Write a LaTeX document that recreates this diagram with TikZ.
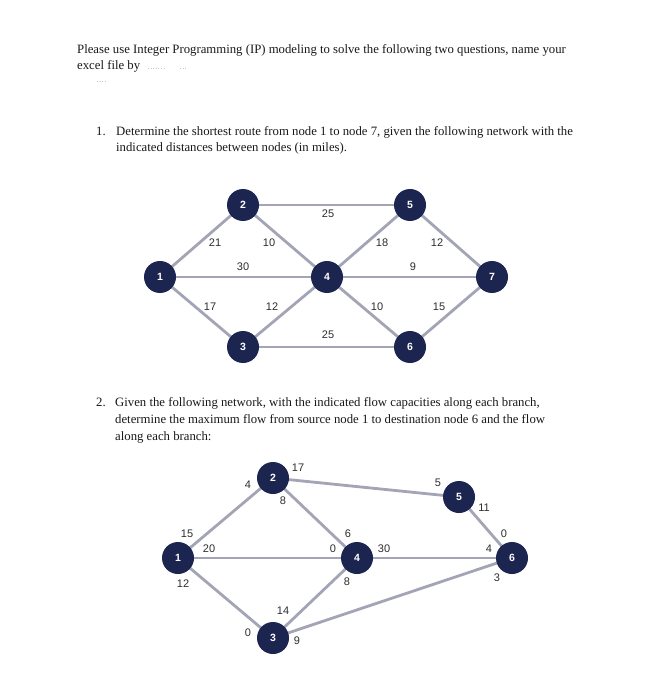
\documentclass[tikz,border=0pt]{standalone}
\usepackage{fontspec}
\setmainfont{Liberation Serif}
\setsansfont{Liberation Sans}
\begin{document}
\begin{tikzpicture}[x=1pt,y=-1pt,
  vtx/.style={circle,fill=navy,draw=none,minimum size=32pt,inner sep=0pt,text=white,font=\sffamily\bfseries\fontsize{10.5}{10.5}\selectfont},
  edge/.style={draw=edgegray,line width=2.8pt},
  lbl/.style={font=\sffamily\fontsize{11}{11}\selectfont,text=labgray,inner sep=0pt},
  txt/.style={anchor=base west,inner sep=0pt,font=\fontsize{12.75}{14}\selectfont,text=black!90},
  scrib/.style={draw=black!22,line width=0.6pt,dotted}]
\definecolor{navy}{HTML}{1B2550}
\definecolor{edgegray}{HTML}{A3A4B5}
\definecolor{labgray}{HTML}{2E2E2E}
\useasboundingbox[fill=white] (0,0) rectangle (652,700);

% header text
\node[txt] (h1) at (77,54) {Please use Integer Programming (IP) modeling to solve the following two questions, name your};
\node[txt] (h2) at (77,70) {excel file by};
\draw[scrib] (148,68) -- (166,68);
\draw[scrib] (180,68) -- (187,68);
\draw[scrib] (97,81) -- (105,81);

% question 1
\node[txt] (q1n) at (96,136) {1.};
\node[txt] (q1a) at (116,136) {Determine the shortest route from node 1 to node 7, given the following network with the};
\node[txt] (q1b) at (116,152) {indicated distances between nodes (in miles).};

% graph 1
\coordinate (A1) at (160,277);
\coordinate (A2) at (243,205);
\coordinate (A3) at (243,347);
\coordinate (A4) at (327,277);
\coordinate (A5) at (410,205);
\coordinate (A6) at (410,347);
\coordinate (A7) at (492,277);
\draw[edge] (A1) -- (A2);
\draw[edge] (A1) -- (A4);
\draw[edge] (A1) -- (A3);
\draw[edge] (A2) -- (A4);
\draw[edge] (A2) -- (A5);
\draw[edge] (A3) -- (A4);
\draw[edge] (A3) -- (A6);
\draw[edge] (A4) -- (A5);
\draw[edge] (A4) -- (A7);
\draw[edge] (A4) -- (A6);
\draw[edge] (A5) -- (A7);
\draw[edge] (A6) -- (A7);
\node[vtx] (n1) at (A1) {1};
\node[vtx] (n2) at (A2) {2};
\node[vtx] (n3) at (A3) {3};
\node[vtx] (n4) at (A4) {4};
\node[vtx] (n5) at (A5) {5};
\node[vtx] (n6) at (A6) {6};
\node[vtx] (n7) at (A7) {7};
\node[lbl] (l12) at (215,243) {21};
\node[lbl] (l24) at (269,243) {10};
\node[lbl] (l14) at (243,267) {30};
\node[lbl] (l13) at (210,307) {17};
\node[lbl] (l34) at (272,307) {12};
\node[lbl] (l25) at (328,214) {25};
\node[lbl] (l36) at (328,335) {25};
\node[lbl] (l45) at (382,243) {18};
\node[lbl] (l57) at (437,243) {12};
\node[lbl] (l47) at (413,267) {9};
\node[lbl] (l46) at (377,307) {10};
\node[lbl] (l67) at (439,307) {15};

% question 2
\node[txt] (q2n) at (96,406) {2.};
\node[txt] (q2a) at (115,406) {Given the following network, with the indicated flow capacities along each branch,};
\node[txt] (q2b) at (115,423) {determine the maximum flow from source node 1 to destination node 6 and the flow};
\node[txt] (q2c) at (115,440) {along each branch:};

% graph 2
\coordinate (B1) at (178,558);
\coordinate (B2) at (273,478);
\coordinate (B3) at (273,638);
\coordinate (B4) at (357,558);
\coordinate (B5) at (459,497);
\coordinate (B6) at (512,558);
\draw[edge] (B1) -- (B2);
\draw[edge] (B1) -- (B4);
\draw[edge] (B1) -- (B3);
\draw[edge] (B2) -- (B4);
\draw[edge] (B2) -- (B5);
\draw[edge] (B3) -- (B4);
\draw[edge] (B3) -- (B6);
\draw[edge] (B4) -- (B6);
\draw[edge] (B5) -- (B6);
\node[vtx] (m1) at (B1) {1};
\node[vtx] (m2) at (B2) {2};
\node[vtx] (m3) at (B3) {3};
\node[vtx] (m4) at (B4) {4};
\node[vtx] (m5) at (B5) {5};
\node[vtx] (m6) at (B6) {6};
\node[lbl] (c21) at (248,485) {4};
\node[lbl] (c25) at (298,468) {17};
\node[lbl] (c24) at (283,501) {8};
\node[lbl] (c12) at (187,534) {15};
\node[lbl] (c14) at (209,549) {20};
\node[lbl] (c13) at (183,584) {12};
\node[lbl] (c42) at (348,534) {6};
\node[lbl] (c41) at (333,549) {0};
\node[lbl] (c43) at (347,582) {8};
\node[lbl] (c34) at (283,611) {14};
\node[lbl] (c31) at (248,633) {0};
\node[lbl] (c36) at (297,641) {9};
\node[lbl] (c46) at (384,549) {30};
\node[lbl] (c52) at (438,483) {5};
\node[lbl] (c56) at (484,508) {11};
\node[lbl] (c65) at (504,534) {0};
\node[lbl] (c64) at (489,549) {4};
\node[lbl] (c63) at (497,578) {3};
\end{tikzpicture}
\end{document}
